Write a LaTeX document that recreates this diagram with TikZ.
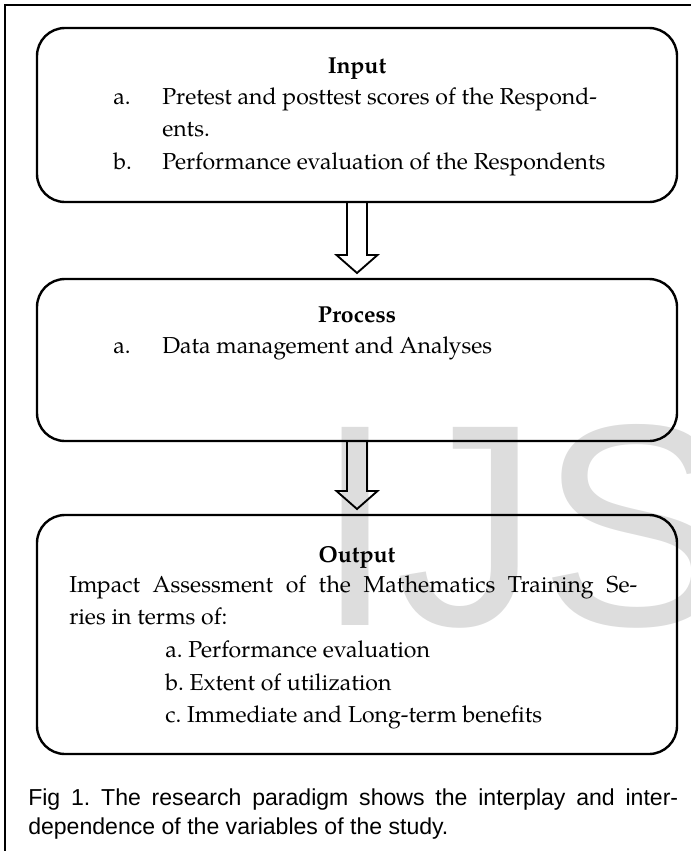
\documentclass[tikz,border=0pt]{standalone}
\usepackage{fontspec}
\setmainfont{TeX Gyre Pagella}
\newfontfamily\capfont{Liberation Sans}
\usepackage{xcolor}
\usetikzlibrary{positioning,calc}

\definecolor{wmgray}{RGB}{221,221,221}

%% outline block arrow from the bottom of box #1 to the top of box #2
\newcommand{\blockarrow}[2]{%
  \draw[arrowline] ($(#1.south)+(-10,0)$) -- ($(#2.north)+(-10,-24)$)
    -- ($(#2.north)+(-20.5,-24)$) -- ($(#2.north)+(0,-6)$)
    -- ($(#2.north)+(20.5,-24)$) -- ($(#2.north)+(10,-24)$)
    -- ($(#1.south)+(10,0)$);}

\begin{document}
\frenchspacing
\begin{tikzpicture}[
  x=0.75pt, y=-0.75pt,
  every node/.style={font=\fontsize{17.3}{24.5}\selectfont},
  box/.style      ={draw, line width=1.8pt, rounded corners=21pt,
                    minimum width=480pt, inner sep=0pt, outer sep=0pt},
  head/.style     ={font=\fontsize{17.3}{24.5}\selectfont\bfseries,
                    anchor=base, inner sep=0pt},
  items/.style    ={anchor=base west, inner sep=0pt},
  caption/.style  ={font=\capfont\fontsize{17.3}{22}\selectfont,
                    anchor=base west, inner sep=0pt},
  watermark/.style={font=\capfont\fontsize{216}{216}\selectfont,
                    text=wmgray, anchor=base west, inner sep=0pt},
  arrowline/.style={line width=1.4pt, line join=miter},
  frame/.style    ={line width=1pt}
]
\useasboundingbox (0,0) rectangle (691,851);

%% ---- Watermark ---------------------------------------------------
\node[watermark] (wm) at (315,625) {IJS};

%% ---- Frame -------------------------------------------------------
\coordinate (frametop)    at (691,5);
\coordinate (framecorner) at (5,5);
\coordinate (framefoot)   at (5,851);
\draw[frame] (frametop) -- (framecorner) -- (framefoot);

%% ---- Boxes -------------------------------------------------------
\node[box, minimum height=130.5pt] (inbox) at (357,115) {};
\node[box, minimum height=121.5pt, below=57.75pt of inbox] (procbox) {};
\node[box, minimum height=179.25pt, below=55.5pt of procbox] (outbox) {};

%% ---- Input -------------------------------------------------------
\node[head] (intitle) at ($(inbox.north)+(0,45)$) {Input};
\node[items] (initems) at ($(inbox.north west)+(76,76)$)
     {\begin{tabular}[t]{@{}p{36.75pt}@{}l@{}}
      a. & Pretest and posttest scores of the Respond-\\
         & ents.\\
      b. & Performance evaluation of the Respondents
      \end{tabular}};

%% ---- Process -----------------------------------------------------
\node[head] (proctitle) at ($(procbox.north)+(0,43)$) {Process};
\node[items] (procitems) at ($(procbox.north west)+(76,74)$)
     {\begin{tabular}[t]{@{}p{36.75pt}@{}l@{}}
      a. & Data management and Analyses
      \end{tabular}};

%% ---- Output ------------------------------------------------------
\node[head] (outtitle) at ($(outbox.north)+(0,47)$) {Output};
\node[items] (outitems) at ($(outbox.north west)+(32,77)$)
     {\begin{tabular}[t]{@{}l@{}}
      \makebox[426pt][s]{Impact Assessment of the Mathematics Training Se-}\\
      ries in terms of:\\
      \hspace*{72pt}a. Performance evaluation\\
      \hspace*{72pt}b. Extent of utilization\\
      \hspace*{72pt}c. Immediate and Long-term benefits
      \end{tabular}};

%% ---- Arrows ------------------------------------------------------
\blockarrow{inbox}{procbox}
\blockarrow{procbox}{outbox}

%% ---- Caption -----------------------------------------------------
\node[caption] (cap) at (28,805)
     {\begin{tabular}[t]{@{}l@{}}
      \makebox[487.5pt][s]{Fig 1. The research paradigm shows the interplay and inter-}\\
      dependence of the variables of the study.
      \end{tabular}};

\end{tikzpicture}
\end{document}
